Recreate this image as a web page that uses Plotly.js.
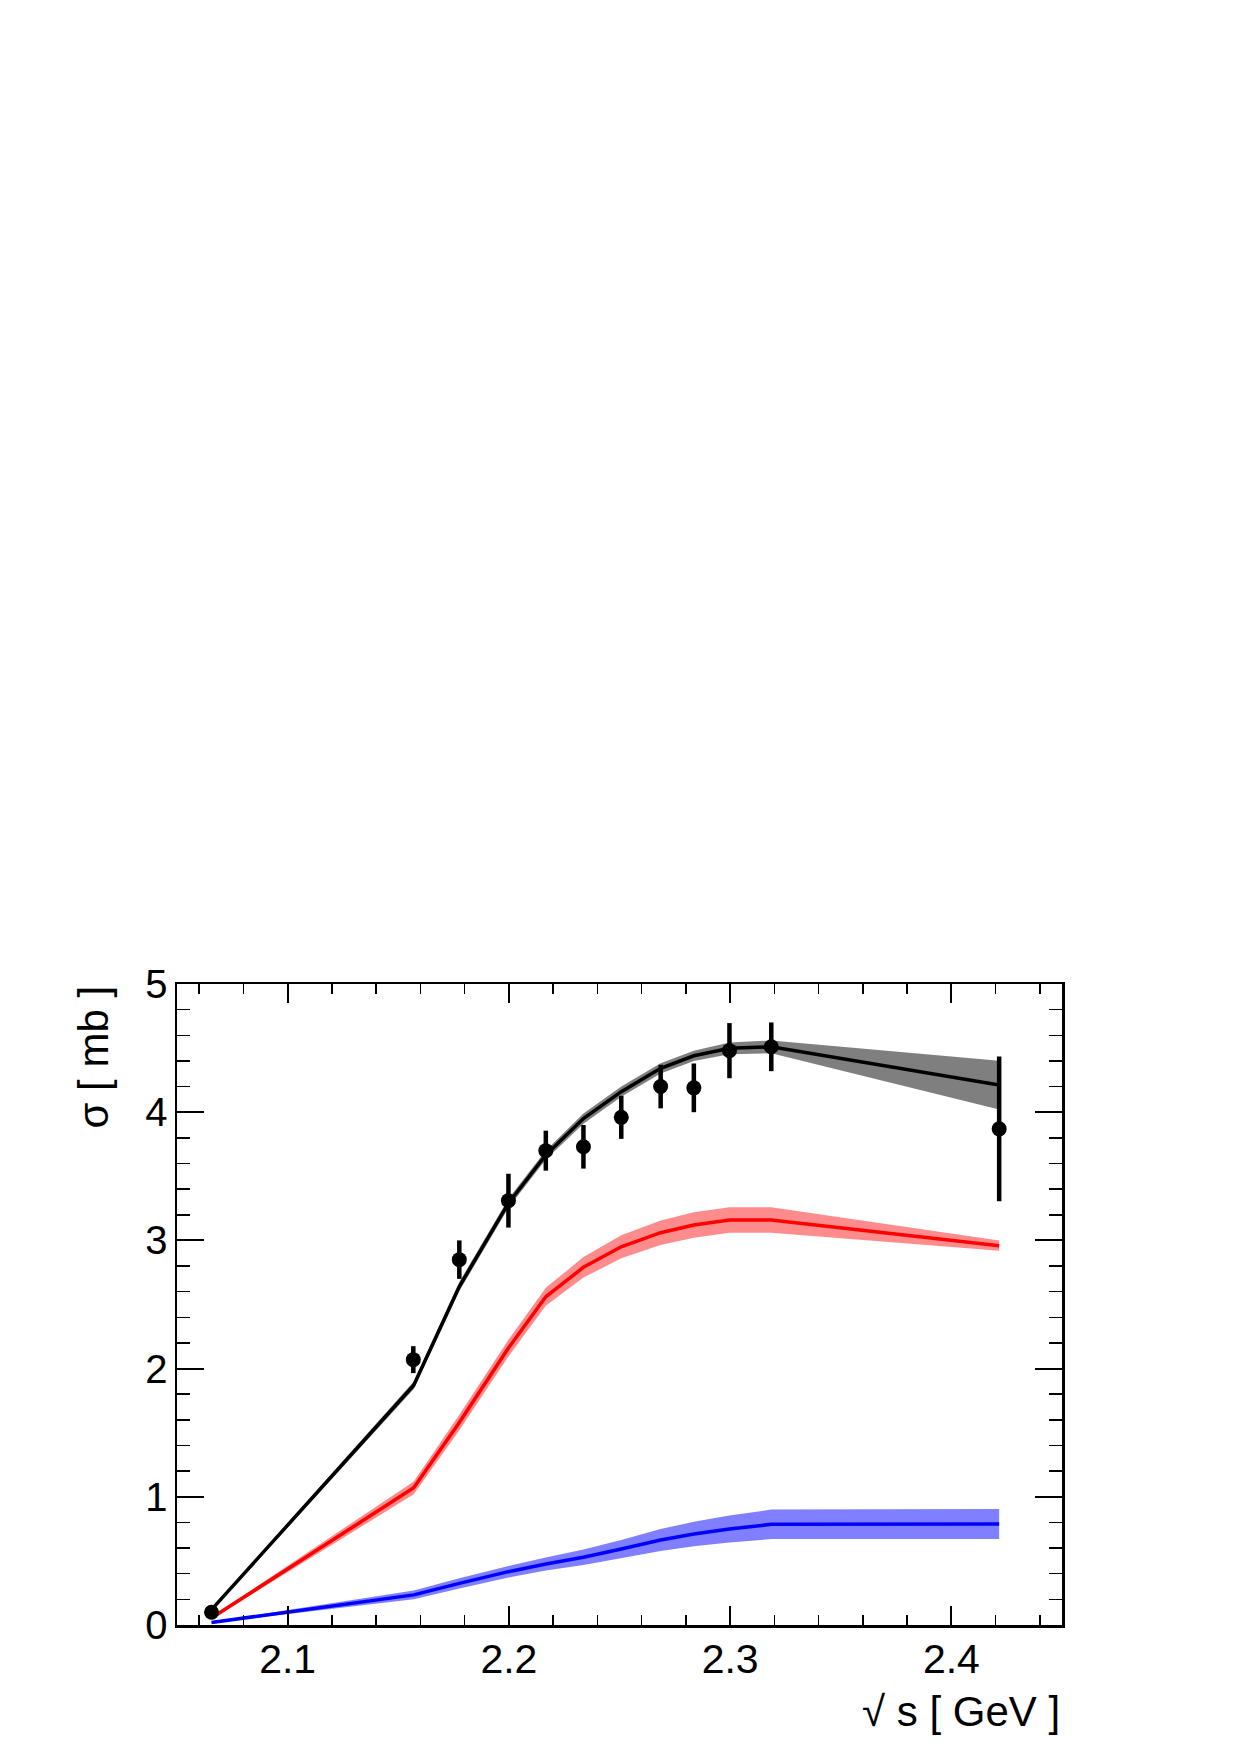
<!DOCTYPE html>
<html>
<head>
<meta charset="utf-8">
<script src="https://cdn.plot.ly/plotly-3.0.1.min.js"></script>
<style>
  html, body { margin: 0; padding: 0; background: #ffffff; }
  #chart { width: 1240px; height: 1755px; }
</style>
</head>
<body>
<div id="chart"></div>
<script>
// ---- data ----
const sqrtS      = [2.0656, 2.1568, 2.1776, 2.1998, 2.2167, 2.2337, 2.2508, 2.2686, 2.2836, 2.2997, 2.3186, 2.4216];
const sigmaData  = [0.10, 2.07, 2.85, 3.31, 3.70, 3.73, 3.96, 4.20, 4.19, 4.48, 4.51, 3.87];
const sigmaErr   = [0.03, 0.105, 0.15, 0.21, 0.156, 0.17, 0.168, 0.17, 0.19, 0.215, 0.19, 0.565];

const modelX     = [2.0656, 2.157, 2.1776, 2.1998, 2.2167, 2.2337, 2.2508, 2.2686, 2.2836, 2.2997, 2.3186, 2.4216];
const totalModel = [0.12, 1.87, 2.64, 3.29, 3.666, 3.95, 4.16, 4.342, 4.44, 4.498, 4.51, 4.212];
const totalBand  = [0.01, 0.03, 0.035, 0.035, 0.035, 0.04, 0.04, 0.04, 0.04, 0.045, 0.05, 0.19];
const redModel   = [0.055, 1.07, 1.58, 2.16, 2.56, 2.79, 2.95, 3.06, 3.12, 3.159, 3.159, 2.959];
const redBand    = [0.01, 0.05, 0.06, 0.065, 0.07, 0.08, 0.09, 0.095, 0.1, 0.1, 0.1, 0.04];
const blueModel  = [0.02, 0.235, 0.325, 0.416, 0.476, 0.528, 0.593, 0.663, 0.71, 0.749, 0.785, 0.788];
const blueBand   = [0.005, 0.035, 0.04, 0.045, 0.05, 0.06, 0.07, 0.085, 0.095, 0.105, 0.115, 0.117];

const xTickVals  = [2.1, 2.2, 2.3, 2.4];
const xTickText  = ['2.1', '2.2', '2.3', '2.4'];
const yTickVals  = [0, 1, 2, 3, 4, 5];
const yTickText  = ['0', '1', '2', '3', '4', '5'];

// ---- build traces ----
function band(xs, ys, es, color) {
  const upper = ys.map((v, i) => v + es[i]);
  const lower = ys.map((v, i) => v - es[i]);
  return {
    x: xs.concat(xs.slice().reverse()),
    y: upper.concat(lower.slice().reverse()),
    type: 'scatter', mode: 'lines', fill: 'toself',
    fillcolor: color, line: { width: 0 }, hoverinfo: 'skip', showlegend: false
  };
}
function curve(xs, ys, color) {
  return { x: xs, y: ys, type: 'scatter', mode: 'lines',
           line: { color: color, width: 3.5 }, showlegend: false };
}

const traces = [
  band(modelX, blueModel, blueBand, 'rgba(0,0,255,0.5)'),
  band(modelX, redModel, redBand, 'rgba(255,0,0,0.45)'),
  band(modelX, totalModel, totalBand, 'rgba(0,0,0,0.5)'),
  curve(modelX, blueModel, '#0000ff'),
  curve(modelX, redModel, '#ff0000'),
  curve(modelX, totalModel, '#000000'),
  {
    x: sqrtS, y: sigmaData, type: 'scatter', mode: 'markers',
    marker: { color: '#000000', size: 15, symbol: 'circle' },
    error_y: { type: 'data', array: sigmaErr, visible: true, color: '#000000', thickness: 4.5, width: 0 },
    showlegend: false
  }
];

const FONT = 'Liberation Sans, Arial, Helvetica, sans-serif';

const layout = {
  width: 1240, height: 1755,
  margin: { l: 177, r: 178, t: 984, b: 130, pad: 0 },
  paper_bgcolor: '#ffffff', plot_bgcolor: '#ffffff',
  showlegend: false,
  xaxis: {
    range: [2.05, 2.45], tickmode: 'array', tickvals: xTickVals, ticktext: xTickText,
    ticks: 'inside', ticklen: 19, tickwidth: 2, tickcolor: '#000000',
    minor: { dtick: 0.02, tick0: 2.0, ticks: 'inside', ticklen: 10, tickwidth: 1.5, tickcolor: '#000000', showgrid: false },
    showline: true, linewidth: 2.5, linecolor: '#000000', mirror: 'allticks',
    showgrid: false, zeroline: false,
    tickfont: { family: FONT, size: 41, color: '#000000' },
    ticklabelstandoff: -4
  },
  yaxis: {
    range: [0, 5], tickmode: 'array', tickvals: yTickVals, ticktext: yTickText,
    ticks: 'inside', ticklen: 27, tickwidth: 2, tickcolor: '#000000',
    minor: { dtick: 0.2, tick0: 0, ticks: 'inside', ticklen: 13, tickwidth: 1.5, tickcolor: '#000000', showgrid: false },
    showline: true, linewidth: 2.5, linecolor: '#000000', mirror: 'allticks',
    showgrid: false, zeroline: false,
    tickfont: { family: FONT, size: 40, color: '#000000' },
    ticklabelstandoff: -1
  },
  annotations: [
    {
      text: 'σ [ mb ]', xref: 'paper', yref: 'paper',
      x: (93 - 177) / 885, y: 1.0, xanchor: 'center', yanchor: 'top',
      textangle: -90, showarrow: false,
      font: { family: FONT, size: 42, color: '#000000' }
    },
    {
      text: '√ s [ GeV ]', xref: 'paper', yref: 'paper',
      x: 1.0, y: (1625 - 1711) / 641, xanchor: 'right', yanchor: 'middle',
      showarrow: false,
      font: { family: FONT, size: 42, color: '#000000' }
    }
  ]
};

Plotly.newPlot('chart', traces, layout, { staticPlot: true, displayModeBar: false });
</script>
</body>
</html>
